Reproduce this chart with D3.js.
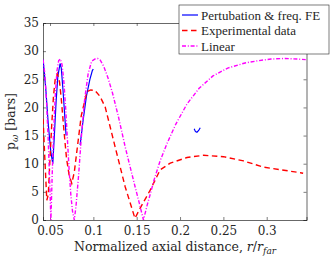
<!DOCTYPE html>
<html>
<head>
<meta charset="utf-8">
<script src="https://cdn.jsdelivr.net/npm/d3@7"></script>
<style>
  body { margin: 0; background: #fff; }
  svg text { font-family: "DejaVu Serif", serif; fill: #262626; }
</style>
</head>
<body>
<svg id="chart" width="332" height="261"></svg>
<script>
// values (x = r/r_far, y = p_omega in bars)
var linearX = [0.042, 0.044, 0.046, 0.048, 0.050, 0.051, 0.0525, 0.054, 0.056, 0.058, 0.060, 0.062, 0.064, 0.066, 0.068, 0.070, 0.072, 0.074, 0.076, 0.078,
  0.080, 0.083, 0.086, 0.090, 0.094, 0.098, 0.102, 0.105, 0.108, 0.112, 0.117, 0.122, 0.129, 0.1367, 0.142, 0.148, 0.153, 0.1578,
  0.162, 0.166, 0.170, 0.177, 0.185, 0.195, 0.208, 0.222, 0.238, 0.255, 0.275, 0.290, 0.305, 0.321, 0.335, 0.345];
var linearY = [28.5, 26, 21, 14, 5, 0, 8, 15, 22, 26.5, 28.3, 28.6, 27.5, 24.5, 20, 14.5, 9, 4.5, 1.5, 0,
  2.5, 8, 14.5, 21.5, 26, 28.2, 28.6, 28.7, 28.4, 27.3, 25.2, 22.6, 18.3, 13, 9.7, 6, 3, 0,
  2.6, 4.8, 7.1, 10.5, 13.6, 17, 20.6, 23.4, 25.6, 27, 27.9, 28.3, 28.6, 28.7, 28.6, 28.5];

var expX = [0.042, 0.044, 0.0463, 0.048, 0.050, 0.052, 0.054, 0.056, 0.0585, 0.061, 0.063, 0.066, 0.069, 0.072, 0.0751, 0.078, 0.082, 0.086, 0.0925,
  0.097, 0.102, 0.1075, 0.1136, 0.1251, 0.1367, 0.148, 0.154, 0.1656, 0.177, 0.1887, 0.208, 0.227, 0.250, 0.2733, 0.296, 0.3388, 0.342];
var expY = [18, 11, 3.5, 4.5, 11, 17, 22, 25, 26, 24.5, 21.5, 16, 11, 8, 6.5, 8.5, 13.5, 18.5, 22.8,
  23.1, 23, 22, 20.1, 13, 5.9, 0.3, 2.1, 5.3, 8.9, 10.1, 11.1, 11.5, 11.25, 10.5, 9.4, 8.4, 8.3];

// perturbation & frequency FE: drawn in pieces (null = gap)
var feX = [0.042, 0.045, 0.048, 0.051, 0.0532, 0.055, 0.057, 0.059, 0.0616, 0.063, 0.065, 0.067, 0.0685, null,
  0.0847, 0.088, 0.092, 0.096, 0.0989, 0.100, null,
  0.2163, 0.2178, 0.2195, 0.2215, 0.2233];
var feY = [28.5, 23.5, 17, 12, 10, 15, 21, 25.5, 27.8, 27, 23, 18.5, 15, null,
  13.3, 17.5, 22, 25, 26.6, 26.8, null,
  16.2, 15.7, 15.6, 15.9, 16.4];

var xTicks = [0.05, 0.1, 0.15, 0.2, 0.25, 0.3];
var yTicks = [0, 5, 10, 15, 20, 25, 30, 35];

var svg = d3.select('#chart');
var axLeft = 43, axRight = 306.5, axTop = 23, axBottom = 220;
var serif = '"DejaVu Serif", serif';

var x = d3.scaleLinear().domain([0.0419, 0.3459]).range([axLeft, axRight]);
var y = d3.scaleLinear().domain([0, 35]).range([axBottom, axTop]);

svg.append('defs').append('clipPath').attr('id', 'plotClip')
  .append('rect').attr('x', axLeft).attr('y', axTop).attr('width', axRight - axLeft).attr('height', axBottom - axTop);

// axes (MATLAB style: ticks inside, box on)
var axColor = '#262626';
var xAxis = svg.append('g').attr('transform', 'translate(0,' + axBottom + ')')
  .call(d3.axisBottom(x).tickValues(xTicks).tickSize(-3).tickPadding(6)
    .tickFormat(function(d) { return String(+d.toFixed(2)); }));
var yAxis = svg.append('g').attr('transform', 'translate(' + axLeft + ',0)')
  .call(d3.axisLeft(y).tickValues(yTicks).tickSize(-3).tickPadding(4));
var xTop = svg.append('g').attr('transform', 'translate(0,' + axTop + ')')
  .call(d3.axisTop(x).tickValues(xTicks).tickSize(-3).tickFormat(''));
var yRight = svg.append('g').attr('transform', 'translate(' + axRight + ',0)')
  .call(d3.axisRight(y).tickValues(yTicks).tickSize(-3).tickFormat(''));

[xAxis, yAxis, xTop, yRight].forEach(function(g) {
  g.attr('font-family', serif);
  g.select('.domain').attr('stroke', axColor).attr('stroke-width', 0.7);
  g.selectAll('.tick line').attr('stroke', axColor).attr('stroke-width', 0.6);
  g.selectAll('.tick text').attr('fill', axColor).style('font-size', '12px')
    .style('font-family', serif);
});

// curves
function pts(xs, ys) {
  return xs.map(function(v, i) { return v === null ? null : [v, ys[i]]; });
}
var line = d3.line()
  .defined(function(d) { return d !== null; })
  .x(function(d) { return x(d[0]); })
  .y(function(d) { return y(d[1]); });

var plot = svg.append('g').attr('clip-path', 'url(#plotClip)');

plot.append('path').datum(pts(feX, feY))
  .attr('d', line).attr('fill', 'none')
  .attr('stroke', '#0000ff').attr('stroke-width', 1.2);

plot.append('path').datum(pts(expX, expY))
  .attr('d', line).attr('fill', 'none')
  .attr('stroke', '#ff0000').attr('stroke-width', 1.4)
  .attr('stroke-dasharray', '5.5,3.5');

plot.append('path').datum(pts(linearX, linearY))
  .attr('d', line).attr('fill', 'none')
  .attr('stroke', '#ff00ff').attr('stroke-width', 1.4)
  .attr('stroke-dasharray', '4,1.8,1,1.8');

// axis labels
svg.append('text')
  .attr('x', 175).attr('y', 251)
  .attr('text-anchor', 'middle')
  .style('font-size', '12.5px')
  .html('Normalized axial distance, <tspan font-style="italic">r</tspan>/<tspan font-style="italic">r</tspan><tspan font-style="italic" font-size="9px" dy="3">far</tspan>');

svg.append('text')
  .attr('transform', 'translate(15,' + ((axTop + axBottom) / 2) + ') rotate(-90)')
  .attr('text-anchor', 'middle')
  .style('font-size', '12.5px')
  .html('p<tspan font-size="9px" font-style="italic" dy="3">ω</tspan><tspan dy="-3"> [bars]</tspan>');

// legend
var legendNames = ['Pertubation & freq. FE', 'Experimental data', 'Linear'];
var legendColors = ['#0000ff', '#ff0000', '#ff00ff'];
var legendDash = [null, '5.5,3.5', '4,1.8,1,1.8'];

var legend = svg.append('g');
legend.append('rect')
  .attr('x', 179).attr('y', 5).attr('width', 150).attr('height', 49)
  .attr('fill', '#fff').attr('stroke', axColor).attr('stroke-width', 0.6);

var items = legend.selectAll('g.item')
  .data(legendNames)
  .enter().append('g')
    .attr('class', 'item')
    .attr('transform', function(d, i) { return 'translate(0,' + (15 + i * 15.5) + ')'; });
items.append('line')
  .attr('x1', 182).attr('x2', 198).attr('y1', 0).attr('y2', 0)
  .attr('stroke', function(d, i) { return legendColors[i]; })
  .attr('stroke-width', function(d, i) { return i === 0 ? 1.2 : 1.4; })
  .attr('stroke-dasharray', function(d, i) { return legendDash[i]; });
items.append('text')
  .attr('x', 201).attr('y', 4.5)
  .style('font-family', '"Liberation Serif", serif')
  .style('font-size', '13px')
  .text(function(d) { return d; });
</script>
</body>
</html>
